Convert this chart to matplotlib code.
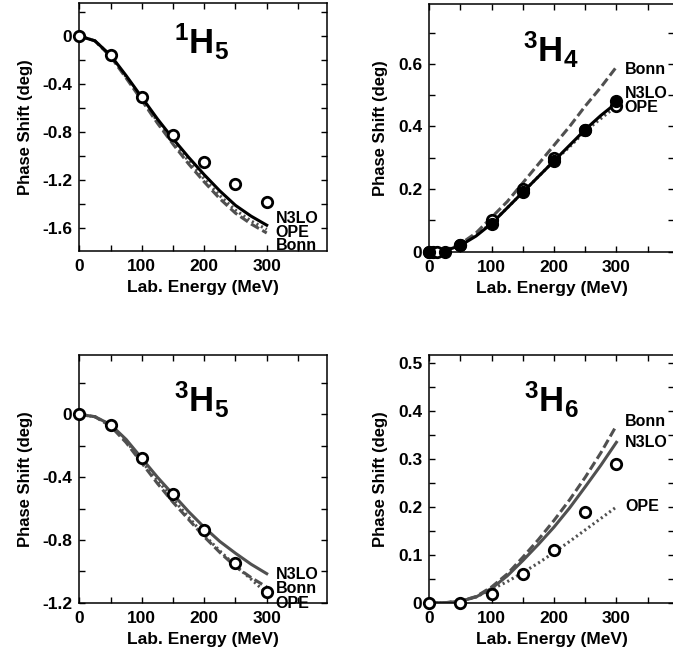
import matplotlib
matplotlib.use("Agg")
import matplotlib.pyplot as plt
from matplotlib.ticker import MultipleLocator, FuncFormatter

plt.rcParams['font.family'] = ['Liberation Sans', 'DejaVu Sans']
plt.rcParams['font.weight'] = 'bold'
plt.rcParams['axes.unicode_minus'] = False
plt.rcParams['mathtext.fontset'] = 'custom'
plt.rcParams['mathtext.rm'] = 'Liberation Sans:bold'
plt.rcParams['mathtext.it'] = 'Liberation Sans:bold'
plt.rcParams['mathtext.bf'] = 'Liberation Sans:bold'
plt.rcParams['lines.scale_dashes'] = False

# Lab energies [MeV] for the model curves and the phase shift analysis points
energy = [0, 25, 50, 75, 100, 125, 150, 175, 200, 225, 250, 275, 300]
pwa_energy = [0, 50, 100, 150, 200, 250, 300]

# 1H5
h15_n3lo = [0, -0.04, -0.16, -0.33, -0.51, -0.69, -0.855, -1.01, -1.155, -1.29, -1.41, -1.50, -1.575]
h15_ope = [0, -0.04, -0.165, -0.34, -0.52, -0.71, -0.88, -1.04, -1.19, -1.33, -1.45, -1.54, -1.61]
h15_bonn = [0, -0.04, -0.17, -0.35, -0.535, -0.725, -0.90, -1.065, -1.215, -1.355, -1.475, -1.565, -1.64]
h15_pwa = [0, -0.16, -0.51, -0.82, -1.05, -1.23, -1.38]

# 3H4
h34_n3lo = [0, 0.003, 0.02, 0.05, 0.09, 0.14, 0.19, 0.24, 0.29, 0.34, 0.39, 0.435, 0.475]
h34_ope = [0, 0.003, 0.022, 0.053, 0.092, 0.14, 0.19, 0.24, 0.29, 0.335, 0.385, 0.425, 0.465]
h34_bonn = [0, 0.004, 0.025, 0.06, 0.11, 0.16, 0.22, 0.28, 0.34, 0.40, 0.465, 0.525, 0.59]
h34_open_energy = [0, 6, 12, 50, 100, 150, 200, 250, 300]
h34_open = [0, 0, 0, 0.02, 0.10, 0.20, 0.30, 0.39, 0.465]
h34_filled_energy = [0, 25, 50, 100, 150, 200, 250, 300]
h34_filled = [0, 0, 0.02, 0.09, 0.19, 0.29, 0.39, 0.48]

# 3H5
h35_n3lo = [0, -0.015, -0.065, -0.16, -0.28, -0.40, -0.51, -0.62, -0.72, -0.81, -0.885, -0.955, -1.015]
h35_ope = [0, -0.015, -0.07, -0.17, -0.30, -0.42, -0.54, -0.655, -0.77, -0.87, -0.965, -1.05, -1.14]
h35_bonn = [0, -0.015, -0.075, -0.18, -0.31, -0.44, -0.56, -0.67, -0.78, -0.88, -0.97, -1.04, -1.10]
h35_pwa = [0, -0.07, -0.28, -0.51, -0.74, -0.95, -1.13]

# 3H6
h36_n3lo = [0, 0, 0.003, 0.012, 0.030, 0.056, 0.088, 0.122, 0.158, 0.198, 0.242, 0.287, 0.335]
h36_ope = [0, 0, 0.003, 0.012, 0.028, 0.044, 0.063, 0.083, 0.105, 0.128, 0.152, 0.176, 0.20]
h36_bonn = [0, 0, 0.003, 0.013, 0.033, 0.060, 0.095, 0.132, 0.172, 0.215, 0.262, 0.313, 0.37]
h36_pwa = [0, 0, 0.019, 0.06, 0.11, 0.19, 0.29]

grey = '#505050'


def tick_label(value, pos):
    if abs(value) < 1e-9:
        return '0'
    return f'{value:g}'


def setup_axes(ax, xmax, ylim, major, minor):
    ax.set_xlim(0, xmax)
    ax.set_ylim(*ylim)
    ax.xaxis.set_major_locator(MultipleLocator(100))
    ax.xaxis.set_minor_locator(MultipleLocator(50))
    ax.yaxis.set_major_locator(MultipleLocator(major))
    ax.yaxis.set_minor_locator(MultipleLocator(minor))
    ax.yaxis.set_major_formatter(FuncFormatter(tick_label))
    ax.xaxis.set_major_formatter(FuncFormatter(lambda v, p: f'{v:g}' if v <= 300 else ''))
    ax.tick_params(which='both', direction='in', top=True, right=True, length=4.5, width=1,
                   labelsize=12.5)
    ax.tick_params(axis='x', pad=6)
    ax.tick_params(axis='y', pad=5)
    for spine in ax.spines.values():
        spine.set_linewidth(1.1)
    ax.set_xlabel('Lab. Energy (MeV)', fontsize=12.5, fontweight='bold', labelpad=4)
    ax.set_ylabel('Phase Shift (deg)', fontsize=12, fontweight='bold', labelpad=7)


def draw_curves(ax, n3lo, ope, bonn, n3lo_color):
    ax.plot(energy, bonn, color=grey, lw=2.2, dashes=(6.5, 2.8))
    ax.plot(energy, ope, color=grey, lw=2.2, dashes=(1.5, 2.2))
    ax.plot(energy, n3lo, color=n3lo_color, lw=2.2)


def open_circles(ax, x, y):
    ax.plot(x, y, 'o', ms=7.5, mfc='white', mec='black', mew=2, clip_on=False, zorder=5)


def curve_label(ax, x, y, text):
    ax.text(x, y, text, fontsize=11.5, fontweight='bold', va='baseline', ha='left', clip_on=False)


def title(ax, x, y, text):
    ax.text(x, y, text, transform=ax.transAxes, fontsize=25, ha='center', va='baseline')


def main():
    fig = plt.figure(figsize=(6.73, 6.57), dpi=100)
    w_left = 247.4 / 673
    w_right = 244.5 / 673
    h = 248.0 / 657

    # 1H5
    ax = fig.add_axes([79.3 / 673, 1 - 251 / 657, w_left, h])
    setup_axes(ax, 396, (-1.79, 0.275), 0.4, 0.2)
    draw_curves(ax, h15_n3lo, h15_ope, h15_bonn, 'black')
    open_circles(ax, pwa_energy, h15_pwa)
    curve_label(ax, 314, -1.555, 'N3LO')
    curve_label(ax, 314, -1.675, 'OPE')
    curve_label(ax, 314, -1.785, 'Bonn')
    title(ax, 0.494, 0.794, r'$\mathrm{^{1}H_{5}}$')

    # 3H4
    ax = fig.add_axes([429.3 / 673, 1 - 251.7 / 657, w_right, h])
    setup_axes(ax, 392, (0, 0.792), 0.2, 0.1)
    draw_curves(ax, h34_n3lo, h34_ope, h34_bonn, 'black')
    open_circles(ax, h34_open_energy, h34_open)
    ax.plot(h34_filled_energy, h34_filled, 'o', ms=8.5, color='black', clip_on=False, zorder=6)
    curve_label(ax, 314, 0.568, 'Bonn')
    curve_label(ax, 313, 0.49, 'N3LO')
    curve_label(ax, 313, 0.445, 'OPE')
    title(ax, 0.498, 0.764, r'$\mathrm{^{3}H_{4}}$')

    # 3H5
    ax = fig.add_axes([79.3 / 673, 1 - 602.7 / 657, w_left, h])
    setup_axes(ax, 396, (-1.2, 0.38), 0.4, 0.2)
    draw_curves(ax, h35_n3lo, h35_ope, h35_bonn, grey)
    open_circles(ax, pwa_energy, h35_pwa)
    curve_label(ax, 314, -1.051, 'N3LO')
    curve_label(ax, 314, -1.14, 'Bonn')
    curve_label(ax, 314, -1.232, 'OPE')
    title(ax, 0.494, 0.768, r'$\mathrm{^{3}H_{5}}$')

    # 3H6
    ax = fig.add_axes([429.3 / 673, 1 - 602.7 / 657, w_right, h])
    setup_axes(ax, 392, (0, 0.518), 0.1, 0.05)
    draw_curves(ax, h36_n3lo, h36_ope, h36_bonn, grey)
    open_circles(ax, pwa_energy, h36_pwa)
    curve_label(ax, 314, 0.370, 'Bonn')
    curve_label(ax, 314, 0.325, 'N3LO')
    curve_label(ax, 314, 0.191, 'OPE')
    title(ax, 0.498, 0.768, r'$\mathrm{^{3}H_{6}}$')

    fig.savefig('out.png', dpi=100)


if __name__ == "__main__":
    main()
